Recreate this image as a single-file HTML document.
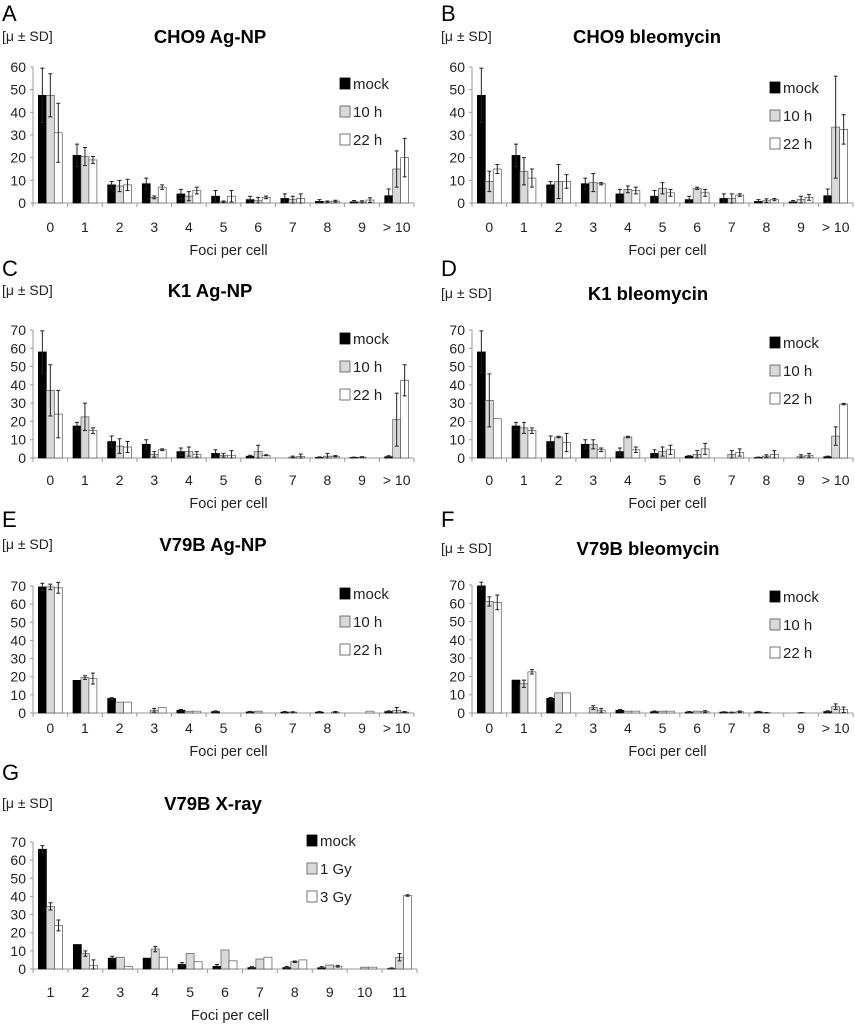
<!DOCTYPE html>
<html><head><meta charset="utf-8">
<style>
html,body{margin:0;padding:0;background:#fff;}
svg{display:block;font-family:"Liberation Sans",Arial,sans-serif;}
</style></head>
<body>
<svg id="fig" width="855" height="1024" viewBox="0 0 855 1024" xmlns="http://www.w3.org/2000/svg"></svg>
<script>
// ---- data ----
const catsFoci = ["0","1","2","3","4","5","6","7","8","9","> 10"];
const catsG = ["1","2","3","4","5","6","7","8","9","10","11"];
const seriesNames = ["mock","10 h","22 h"];
const seriesNamesG = ["mock","1 Gy","3 Gy"];

const A_mock=[47.5,21,8,8.5,4,3,1.5,2,0.7,0.5,3.2];
const A_mockSD=[12,5,1.5,2.5,2,2.5,1.5,2,0.8,0.6,3];
const A_10=[47.5,20.5,7.5,2.5,3,0.5,1,1.5,0.5,0.5,15];
const A_10SD=[9.5,4,2.5,0.6,2,0.4,1.5,1.5,0.4,0.5,8];
const A_22=[31,19,8,7,5.5,3,2.5,2,0.8,1.3,20];
const A_22SD=[13,1.5,2.5,1,1.5,2.5,0.6,2,0.4,1,8.5];

const B_mock=[47.5,21,8,8.5,4,3,1.5,2,0.7,0.5,3.2];
const B_mockSD=[12,5,1.5,2.5,2,2.5,1.5,2,0.8,0.6,3];
const B_10=[9.5,14,9.5,9,6,6.5,6.5,2,1,1.5,33.5];
const B_10SD=[4.5,6,7.5,4,1.5,2.5,0.5,2,0.8,1.5,22.5];
const B_22=[15,11,9.5,8.5,5.5,4.5,4.5,3.5,1.5,2.5,32.5];
const B_22SD=[2,4,3,0.5,1.5,1.5,1.5,0.6,0.5,1.3,6.5];

const C_mock=[58,17.5,9,7.5,3.5,2.5,1,0,0.3,0.3,0.7];
const C_mockSD=[11.5,2,3,2.5,2,2,0.5,0,0.3,0.2,0.5];
const C_10=[37,22.5,6.5,2,3.5,1.5,3.5,0.5,1,0.5,21];
const C_10SD=[14,7.5,4,1.5,2.5,1,3.5,0.5,1.5,0.2,14.5];
const C_22=[24,15,6,4.5,2,1.5,1.5,0.8,1,0,42.5];
const C_22SD=[13,1.5,3,0.5,1.5,2.5,0.3,1.3,0.3,0,8.5];

const D_mock=[58,17.5,9,7.5,3.5,2.5,1,0,0.3,0,0.7];
const D_mockSD=[11.5,2,3,2.5,2,2,0.3,0,0.2,0,0.3];
const D_10=[31.5,16.5,11.5,7.5,11.5,3.5,2,2,1,1,12];
const D_10SD=[14.5,3,0.4,2.5,0.4,2.5,2,2,0.8,0.8,5];
const D_22=[21.5,15,8.5,4.5,4.5,4.5,5,3,2,1.5,29.5];
const D_22SD=[0,1.5,5,1,1.5,2.5,3,2,2,1,0.4];

const E_mock=[69.5,18,8,0,1.5,0.8,0.6,0.5,0.5,0,0.8];
const E_mockSD=[2,0,0.5,0,0.4,0.4,0.3,0.3,0.3,0,0.4];
const E_10=[69.5,19.5,6,1.5,1,0,1,0.5,0,0,1.5];
const E_10SD=[1.5,1,0,1,0,0,0,0.2,0,0,1.5];
const E_22=[69,19,6,3,1,0,0,0,0.5,1,0.5];
const E_22SD=[3,3,0,0,0,0,0,0,0.3,0,0.3];

const F_mock=[69.5,18,8,0,1.5,0.7,0.5,0.5,0.6,0,0.8];
const F_mockSD=[2,0,0.5,0,0.4,0.4,0.3,0.2,0.3,0,0.4];
const F_10=[61,16,11,3,1,1,1,0.3,0.2,0.2,3.5];
const F_10SD=[2.5,2,0,1,0,0,0,0.2,0.1,0.1,1.5];
const F_22=[60.5,22.5,11,1.5,1,1,0.8,0.7,0,0,1.8];
const F_22SD=[4,1.2,0,1,0,0,0.5,0.4,0,0,1.5];

const G_mock=[66,13.5,6,6,2.5,1.5,0.8,0.8,0.7,0,0.2];
const G_mockSD=[2,0,1,0,1,1,0.5,0.6,0.6,0,0.4];
const G_1=[34.5,8.5,6.5,11,8.5,10.5,5.5,4,2.2,1,6.5];
const G_1SD=[2,1.5,0,1.5,0,0,0,0.4,0,0,2];
const G_3=[24,2,1.5,6.5,4,4.5,6.5,5,1.5,1,40.5];
const G_3SD=[3,3,0,0,0,0,0,0,0.5,0,0.4];

const ticks60=[0,10,20,30,40,50,60];
const ticks70=[0,10,20,30,40,50,60,70];

// ---- layout (positions only) ----
const panels=[
 {id:"a",letter:"A",title:"CHO9 Ag-NP",x0:33,x1:414,y0:203,ymax:60,yTop:67,ticks:ticks60,cats:catsFoci,names:seriesNames,vals:[A_mock,A_10,A_22],sds:[A_mockSD,A_10SD,A_22SD],ly:12,ty:36,lgx:340,lgy:83,lab:227,foci:250,tcx:210},
 {id:"b",letter:"B",title:"CHO9 bleomycin",x0:472,x1:853,y0:203,ymax:60,yTop:67,ticks:ticks60,cats:catsFoci,names:seriesNames,vals:[B_mock,B_10,B_22],sds:[B_mockSD,B_10SD,B_22SD],ly:12,ty:36,lgx:770,lgy:87,lab:227,foci:250,tcx:647},
 {id:"c",letter:"C",title:"K1 Ag-NP",x0:33,x1:414,y0:458,ymax:70,yTop:330,ticks:ticks70,cats:catsFoci,names:seriesNames,vals:[C_mock,C_10,C_22],sds:[C_mockSD,C_10SD,C_22SD],ly:267,ty:290,lgx:340,lgy:338,lab:480,foci:503,tcx:210},
 {id:"d",letter:"D",title:"K1 bleomycin",x0:472,x1:853,y0:458,ymax:70,yTop:330,ticks:ticks70,cats:catsFoci,names:seriesNames,vals:[D_mock,D_10,D_22],sds:[D_mockSD,D_10SD,D_22SD],ly:267,ty:293,lgx:770,lgy:342,lab:480,foci:503,tcx:648},
 {id:"e",letter:"E",title:"V79B Ag-NP",x0:33,x1:414,y0:713,ymax:70,yTop:586,ticks:ticks70,cats:catsFoci,names:seriesNames,vals:[E_mock,E_10,E_22],sds:[E_mockSD,E_10SD,E_22SD],ly:518,ty:544,lgx:340,lgy:593,lab:728,foci:751,tcx:213},
 {id:"f",letter:"F",title:"V79B bleomycin",x0:472,x1:853,y0:713,ymax:70,yTop:585,ticks:ticks70,cats:catsFoci,names:seriesNames,vals:[F_mock,F_10,F_22],sds:[F_mockSD,F_10SD,F_22SD],ly:518,ty:548,lgx:770,lgy:596,lab:728,foci:751,tcx:648},
 {id:"g",letter:"G",title:"V79B X-ray",x0:33,x1:417,y0:969,ymax:70,yTop:842,ticks:ticks70,cats:catsG,names:seriesNamesG,vals:[G_mock,G_1,G_3],sds:[G_mockSD,G_1SD,G_3SD],ly:771,ty:803,lgx:307,lgy:840,lab:992,foci:1015,tcx:213}
];
const fills=["#000","#d9d9d9","#fff"];
const NS="http://www.w3.org/2000/svg";
const svg=document.getElementById("fig");
function mk(tag,attrs,parent,txt){const e=document.createElementNS(NS,tag);for(const k in attrs)e.setAttribute(k,attrs[k]);if(txt!==undefined)e.textContent=txt;parent.appendChild(e);return e;}

panels.forEach(p=>{
  const g=mk("g",{},svg);
  
  
  const yScale=v=>p.y0-(v/p.ymax)*(p.y0-p.yTop);
  const cw=(p.x1-p.x0)/p.cats.length;
  const xCat=i=>p.x0+i*cw;
  const bw=cw*0.23, off=(cw-3*bw)/2;
  const xBar=(i,s)=>xCat(i)+off+s*bw;
  const lx=p.x0-33+2;
  const t1=mk("text",{x:lx,y:p.ly+9,"font-size":22,fill:"#000"},g,p.letter);
  
  
  const t2=mk("text",{x:lx,y:p.ty+5,"font-size":14,fill:"#222"},g,"[\u03bc \u00b1 SD]");
  
  
  const t3=mk("text",{x:p.tcx,y:p.ty+7,"font-size":18.5,"font-weight":"bold","text-anchor":"middle",fill:"#000"},g,p.title);
  
  
  const ya=mk("line",{x1:p.x0,y1:p.yTop,x2:p.x0,y2:p.y0,stroke:"#999","stroke-width":1},g);
  
  
  p.ticks.forEach(t=>{
    const y=yScale(t);
    mk("line",{x1:p.x0-3,y1:y,x2:p.x0,y2:y,stroke:"#999"},g);
    const tl=mk("text",{x:p.x0-7,y:y+5,"font-size":14,"text-anchor":"end",fill:"#222"},g,String(t));
    
    
  });
  const xa=mk("line",{x1:p.x0,y1:p.y0,x2:p.x1,y2:p.y0,stroke:"#999"},g);
  
  
  for(let i=0;i<=p.cats.length;i++){mk("line",{x1:xCat(i),y1:p.y0,x2:xCat(i),y2:p.y0+4,stroke:"#999"},g);}
  p.cats.forEach((c,i)=>{
    const xl=mk("text",{x:xCat(i)+cw/2,y:p.lab+5,"font-size":14,"text-anchor":"middle",fill:"#222"},g,c);
    
    
  });
  const ft=mk("text",{x:(p.x0+p.x1)/2+5,y:p.foci+5,"font-size":14.5,"text-anchor":"middle",fill:"#222"},g,"Foci per cell");
  
  
  p.vals.forEach((arr,s)=>{
    arr.forEach((v,i)=>{
      const x=xBar(i,s), y=yScale(v);
      if(v>0){
        const r=mk("rect",{x:x,y:y,width:bw,height:p.y0-y,fill:fills[s],stroke:s==0?"#000":"#555","stroke-width":0.7},g);
        
        
      }
      const sd=p.sds[s][i];
      if(sd>0){
        const cx=x+bw/2, yh=yScale(v+sd), yl=yScale(Math.max(0,v-sd));
        const eb=mk("path",{d:`M${cx},${yh}V${yl}M${cx-2},${yh}H${cx+2}M${cx-2},${yl}H${cx+2}`,stroke:"#222","stroke-width":1,fill:"none"},g);
        
        
      }
    });
  });
  p.names.forEach((n,s)=>{
    const y=p.lgy+s*28;
    const le=mk("g",{},g);
    
    
    mk("rect",{x:p.lgx,y:y-5,width:10,height:11,fill:fills[s],stroke:s==0?"#000":"#555","stroke-width":0.8},le);
    mk("text",{x:p.lgx+13,y:y+6,"font-size":15,fill:"#222"},le,n);
  });
});
</script>
</body></html>
